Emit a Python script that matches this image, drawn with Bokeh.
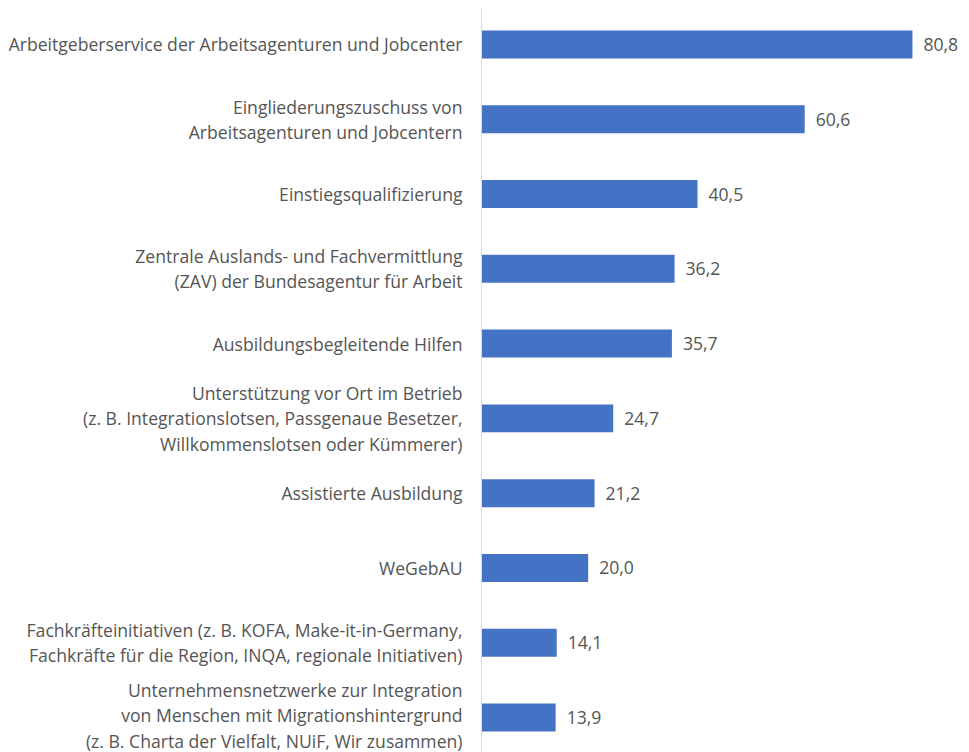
from bokeh.plotting import figure
from bokeh.models import Range1d, FixedTicker, ColumnDataSource, LabelSet
from bokeh.core.properties import value
from bokeh.embed import file_html
from bokeh.resources import INLINE

categories = [
    "Arbeitgeberservice der Arbeitsagenturen und Jobcenter",
    "Eingliederungszuschuss von\nArbeitsagenturen und Jobcentern",
    "Einstiegsqualifizierung",
    "Zentrale Auslands- und Fachvermittlung\n(ZAV) der Bundesagentur für Arbeit",
    "Ausbildungsbegleitende Hilfen",
    "Unterstützung vor Ort im Betrieb\n(z. B. Integrationslotsen, Passgenaue Besetzer,\nWillkommenslotsen oder Kümmerer)",
    "Assistierte Ausbildung",
    "WeGebAU",
    "Fachkräfteinitiativen (z. B. KOFA, Make-it-in-Germany,\nFachkräfte für die Region, INQA, regionale Initiativen)",
    "Unternehmensnetzwerke zur Integration\nvon Menschen mit Migrationshintergrund\n(z. B. Charta der Vielfalt, NUiF, Wir zusammen)",
]
values = [80.8, 60.6, 40.5, 36.2, 35.7, 24.7, 21.2, 20.0, 14.1, 13.9]
value_labels = ["80,8", "60,6", "40,5", "36,2", "35,7", "24,7", "21,2", "20,0", "14,1", "13,9"]

pos = list(range(len(categories)))
src = ColumnDataSource(dict(y=pos, v=values, lab=value_labels))

FONT = "Open Sans"
TXT = "#555555"
FS = "17.6px"

p = figure(width=969, height=752, output_backend="svg", toolbar_location=None,
           x_range=Range1d(0, 91.5), y_range=Range1d(9.468, -0.481),
           min_border_left=481, min_border_right=0, min_border_top=8, min_border_bottom=0)
p.outline_line_color = None
p.grid.visible = False
p.xaxis.visible = False
p.background_fill_color = "white"
p.border_fill_color = "white"

p.hbar(y="y", right="v", left=0, height=0.374, source=src, fill_color="#4472C4", line_color=None)

labels = LabelSet(x="v", y="y", text="lab", source=src, x_offset=11, y_offset=0,
                  text_font=value(FONT), text_font_size=FS, text_color=TXT,
                  text_baseline="middle")
p.add_layout(labels)

ya = p.yaxis[0]
ya.ticker = FixedTicker(ticks=pos)
ya.major_label_overrides = {i: c for i, c in enumerate(categories)}
ya.major_tick_in = 0
ya.major_tick_out = 0
ya.minor_tick_in = 0
ya.minor_tick_out = 0
ya.major_label_standoff = 19
ya.axis_line_color = "#D9D9D9"
ya.axis_line_width = 1
ya.major_label_text_font = FONT
ya.major_label_text_font_size = FS
ya.major_label_text_color = TXT
ya.major_label_text_line_height = 1.05

open("out.html", "w").write(file_html(p, INLINE))
